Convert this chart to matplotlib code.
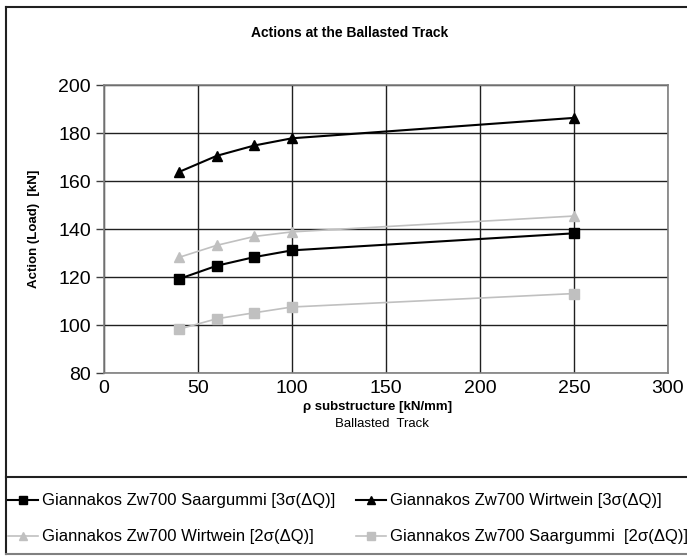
import matplotlib.pyplot as plt
from matplotlib.lines import Line2D

plt.rcParams['font.family'] = ['Liberation Sans', 'DejaVu Sans']

rho = [40, 60, 80, 100, 250]
saar_3s = [119.2, 124.7, 128.3, 131.1, 138.2]
wirt_3s = [163.8, 170.5, 174.8, 177.8, 186.3]
wirt_2s = [128.2, 133.2, 136.9, 138.8, 145.4]
saar_2s = [98.3, 102.6, 105.1, 107.5, 113.1]

x_ticks = [0, 50, 100, 150, 200, 250, 300]
y_ticks = [80, 100, 120, 140, 160, 180, 200]

W, H = 687, 559
fig = plt.figure(figsize=(W / 100, H / 100), dpi=100)

def fx(px):
    return px / W

def fy(py):
    return 1 - py / H

ax = fig.add_axes([fx(104), fy(373), fx(668) - fx(104), fy(85) - fy(373)])

ax.plot(rho, saar_3s, color='black', lw=1.5, marker='s', ms=7, label='Giannakos Zw700 Saargummi [3σ(ΔQ)]')
ax.plot(rho, wirt_3s, color='black', lw=1.5, marker='^', ms=7, label='Giannakos Zw700 Wirtwein [3σ(ΔQ)]')
ax.plot(rho, wirt_2s, color='#c0c0c0', lw=1.2, marker='^', ms=7, label='Giannakos Zw700 Wirtwein [2σ(ΔQ)]')
ax.plot(rho, saar_2s, color='#c0c0c0', lw=1.2, marker='s', ms=7, label='Giannakos Zw700 Saargummi  [2σ(ΔQ)]')

ax.set_xlim(0, 300)
ax.set_ylim(80, 200)
ax.set_xticks(x_ticks)
ax.set_yticks(y_ticks)
ax.tick_params(labelsize=14, length=6, color='#404040', width=1)
ax.tick_params(axis='x', length=0, pad=5)
ax.grid(True, color='#202020', lw=1)
ax.set_axisbelow(True)
for s in ax.spines.values():
    s.set_color('#808080')
    s.set_linewidth(1.2)

# axis titles and chart title
fig.text(fx(34), fy(229), 'Action (Load)  [kN]', rotation=90, ha='center', va='center',
         fontsize=9.5, fontweight='bold')
fig.text(fx(350), fy(33), 'Actions at the Ballasted Track', ha='center', va='center',
         fontsize=10, fontweight='bold')
fig.text(fx(378), fy(407), 'ρ substructure [kN/mm]', ha='center', va='center',
         fontsize=9.5, fontweight='bold')
fig.text(fx(382), fy(424), 'Ballasted  Track', ha='center', va='center', fontsize=9.5)

# outer frame and legend separator
frame = dict(transform=fig.transFigure, color='#202020', lw=1.5)
fig.add_artist(Line2D([fx(6), fx(690)], [fy(7), fy(7)], **frame))
fig.add_artist(Line2D([fx(6), fx(6)], [fy(7), fy(554)], **frame))
fig.add_artist(Line2D([fx(6), fx(690)], [fy(477), fy(477)], **frame))
fig.add_artist(Line2D([fx(6), fx(690)], [fy(554), fy(554)], color='#808080', lw=1.5,
                      transform=fig.transFigure))

handles = ax.get_lines()
slots = [(8, 501), (356, 501), (8, 537), (356, 537)]
for h, (px, py) in zip(handles, slots):
    fig.legend(handles=[h], loc='center left', bbox_to_anchor=(fx(px), fy(py)),
               frameon=False, fontsize=12, handlelength=1.8, handletextpad=0.25,
               borderaxespad=0, borderpad=0, markerscale=0.85)

fig.savefig('out.png', dpi=100)
